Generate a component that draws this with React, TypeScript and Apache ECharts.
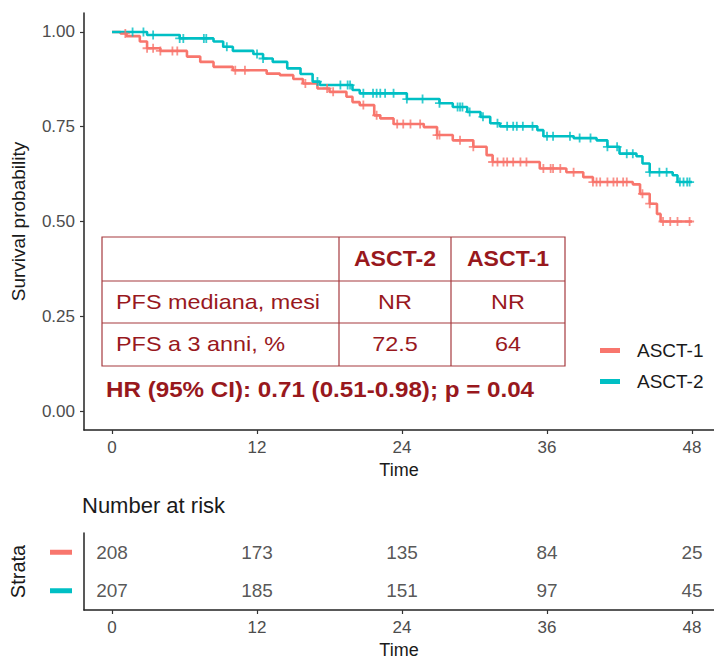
import React, { useEffect, useRef } from "react";
import * as echarts from "echarts";

// Kaplan-Meier step points [month, survival probability]
const asct1Steps: [number, number][] = [
  [0, 1.0], [0.7, 0.996], [1.2, 0.989], [2.3, 0.975], [2.9, 0.957], [4.0, 0.95],
  [6.2, 0.935], [7.3, 0.921], [8.4, 0.908], [10.0, 0.899], [12.8, 0.89], [13.9, 0.886],
  [15.0, 0.876], [15.8, 0.864], [17.0, 0.851], [18.0, 0.842], [19.4, 0.829], [19.9, 0.815],
  [20.5, 0.807], [21.7, 0.78], [22.2, 0.772], [23.3, 0.757], [25.8, 0.749], [26.9, 0.728],
  [28.2, 0.714], [29.9, 0.697], [31.0, 0.675], [31.5, 0.657], [35.4, 0.64], [37.6, 0.63],
  [39.0, 0.617], [39.8, 0.604], [43.1, 0.598], [43.7, 0.573], [44.5, 0.547], [45.1, 0.52],
  [45.4, 0.5], [48.0, 0.5],
];
const asct2Steps: [number, number][] = [
  [0, 1.0], [2.9, 0.992], [5.6, 0.983], [8.4, 0.975], [9.2, 0.961], [10.0, 0.95],
  [11.7, 0.942], [12.5, 0.93], [13.3, 0.921], [14.5, 0.904], [15.6, 0.889], [16.6, 0.869],
  [17.2, 0.86], [19.9, 0.847], [20.5, 0.838], [24.4, 0.823], [27.1, 0.812], [28.2, 0.802],
  [29.4, 0.789], [30.5, 0.776], [31.3, 0.759], [32.1, 0.751], [35.2, 0.741], [35.7, 0.725],
  [38.2, 0.72], [40.1, 0.714], [41.0, 0.697], [42.0, 0.679], [43.4, 0.672], [43.9, 0.653],
  [44.5, 0.63], [46.4, 0.622], [46.8, 0.604], [48.0, 0.604],
];

// Censoring times (months)
const asct1Censor = [
  1.1, 2.9, 3.4, 4.0, 5.0, 5.4, 10.2, 11.0, 16.0, 17.8, 18.3, 20.8, 21.9, 23.6, 24.1, 24.7,
  25.5, 26.9, 27.1, 28.8, 29.9, 31.5, 31.9, 32.4, 32.7, 33.2, 33.8, 34.3, 35.7, 36.3, 36.5,
  37.1, 38.2, 39.8, 40.1, 40.4, 41.0, 41.5, 41.8, 42.3, 42.6, 43.9, 44.5, 45.6, 46.2, 46.8, 47.8,
];
const asct2Censor = [
  1.7, 2.6, 3.4, 5.6, 5.9, 7.6, 7.8, 9.5, 12.0, 12.5, 17.0, 18.9, 19.5, 19.7, 20.8, 21.6,
  21.9, 22.2, 22.6, 23.3, 24.4, 25.7, 27.1, 28.6, 28.8, 29.0, 29.6, 30.7, 31.9, 32.7, 33.2,
  33.5, 34.0, 34.8, 36.0, 36.5, 37.9, 38.7, 39.6, 41.0, 41.8, 42.6, 43.1, 44.5, 45.3, 45.9,
  47.0, 47.3, 47.6, 47.8,
];

// Number at risk
const riskTimes = [0, 12, 24, 36, 48];
const riskAsct1 = [208, 173, 135, 84, 25];
const riskAsct2 = [207, 185, 151, 97, 45];

const timeTicks = [0, 12, 24, 36, 48];
const survTicks = [0, 0.25, 0.5, 0.75, 1];

// Summary table
const tableHeader = ["", "ASCT-2", "ASCT-1"];
const tableRows = [
  ["PFS mediana, mesi", "NR", "NR"],
  ["PFS a 3 anni, %", "72.5", "64"],
];
const hrText = "HR (95% CI): 0.71 (0.51-0.98); p = 0.04";

const RED = "#F8766D";
const TEAL = "#00BFC4";
const DARKRED = "#98181d";
const TABLE_LINE = "#a63a3f";
const FONT = '"Liberation Sans", Arial, sans-serif';

function survAt(steps: [number, number][], t: number): number {
  let s = steps[0][1];
  for (const [st, sv] of steps) {
    if (st <= t) s = sv;
  }
  return s;
}

const PLUS = "path://M4,0h2v4h4v2h-4v4h-2v-4h-4v-2h4z";

export default function App() {
  const ref = useRef<HTMLDivElement>(null);

  useEffect(() => {
    if (!ref.current) return;
    const chart = echarts.init(ref.current, undefined, { renderer: "svg" });

    // table geometry
    const tx = [102, 339, 451, 565];
    const ty = [237, 281, 323, 366];
    const graphics: any[] = [];
    graphics.push({
      type: "rect",
      shape: { x: tx[0], y: ty[0], width: tx[3] - tx[0], height: ty[3] - ty[0] },
      style: { fill: "none", stroke: TABLE_LINE, lineWidth: 1.2 },
      z: 10,
    });
    [tx[1], tx[2]].forEach((x) =>
      graphics.push({
        type: "line",
        shape: { x1: x, y1: ty[0], x2: x, y2: ty[3] },
        style: { stroke: TABLE_LINE, lineWidth: 1.2 },
        z: 10,
      })
    );
    [ty[1], ty[2]].forEach((y) =>
      graphics.push({
        type: "line",
        shape: { x1: tx[0], y1: y, x2: tx[3], y2: y },
        style: { stroke: TABLE_LINE, lineWidth: 1.2 },
        z: 10,
      })
    );
    const rows = [tableHeader, ...tableRows];
    rows.forEach((row, r) => {
      const cy = (ty[r] + ty[r + 1]) / 2;
      row.forEach((cell, c) => {
        if (!cell) return;
        const first = c === 0;
        const cx = first ? tx[0] + 14 : (tx[c] + tx[c + 1]) / 2;
        graphics.push({
          type: "text",
          x: cx,
          y: cy,
          scaleX: r === 0 ? 1.05 : 1.17,
          z: 11,
          style: {
            text: cell,
            fill: DARKRED,
            font: `${r === 0 ? "bold " : ""}${r === 0 ? 22 : 20}px ${FONT}`,
            align: first ? "left" : "center",
            verticalAlign: "middle",
          },
        });
      });
    });
    graphics.push({
      type: "text",
      x: 106,
      y: 389,
      scaleX: 1.1,
      z: 11,
      style: {
        text: hrText,
        fill: DARKRED,
        font: `bold 22px ${FONT}`,
        align: "left",
        verticalAlign: "middle",
      },
    });

    const axisLineStyle = { color: "#222", width: 1.5 };
    const tickStyle = { color: "#333", width: 1.2 };
    const labelStyle = { color: "#4d4d4d", fontSize: 17, fontFamily: FONT };

    const xAxisBase = (gridIndex: number) => ({
      type: "value",
      gridIndex,
      min: -2.32,
      max: 49.82,
      splitLine: { show: false },
      axisLine: { show: true, onZero: false, lineStyle: axisLineStyle },
      axisTick: { show: true, length: 4, lineStyle: tickStyle, customValues: timeTicks },
      axisLabel: { ...labelStyle, margin: 9, customValues: timeTicks },
      name: "Time",
      nameLocation: "middle",
      nameGap: 31,
      nameTextStyle: { color: "#1a1a1a", fontSize: 18, fontFamily: FONT },
    });

    const option: any = {
      animation: false,
      backgroundColor: "#ffffff",
      textStyle: { fontFamily: FONT },
      title: {
        text: "Number at risk",
        left: 82,
        top: 494,
        padding: 0,
        textStyle: { fontSize: 22, fontWeight: "normal", color: "#1a1a1a", fontFamily: FONT },
      },
      grid: [
        { left: 84, right: 0, top: 13, height: 417 },
        { left: 84, right: 0, top: 533, height: 77 },
      ],
      xAxis: [xAxisBase(0), xAxisBase(1)],
      yAxis: [
        {
          type: "value",
          gridIndex: 0,
          min: -0.05,
          max: 1.05,
          splitLine: { show: false },
          axisLine: { show: true, onZero: false, lineStyle: axisLineStyle },
          axisTick: { show: true, length: 4, lineStyle: tickStyle, customValues: survTicks },
          axisLabel: {
            ...labelStyle,
            margin: 9,
            customValues: survTicks,
            formatter: (v: number) => v.toFixed(2),
          },
          name: "Survival probability",
          nameLocation: "middle",
          nameGap: 56,
          nameTextStyle: { color: "#1a1a1a", fontSize: 19, fontFamily: FONT },
        },
        {
          type: "category",
          gridIndex: 1,
          data: ["ASCT-2", "ASCT-1"],
          axisLine: { show: true, onZero: false, lineStyle: axisLineStyle },
          axisTick: { show: false },
          splitLine: { show: false },
          axisLabel: {
            margin: 12,
            formatter: (v: string) => (v === "ASCT-1" ? "{r| }" : "{t| }"),
            rich: {
              r: { backgroundColor: RED, width: 22, height: 5, lineHeight: 5 },
              t: { backgroundColor: TEAL, width: 22, height: 5, lineHeight: 5 },
            },
          },
          name: "Strata",
          nameLocation: "middle",
          nameGap: 56,
          nameTextStyle: { color: "#1a1a1a", fontSize: 20, fontFamily: FONT },
        },
      ],
      legend: {
        orient: "vertical",
        left: 595,
        top: 336,
        itemWidth: 20,
        itemHeight: 5,
        itemGap: 12,
        icon: "rect",
        data: ["ASCT-1", "ASCT-2"],
        textStyle: { color: "#1a1a1a", fontSize: 19, fontFamily: FONT, padding: [0, 0, 0, 12] },
      },
      graphic: graphics,
      series: [
        {
          name: "ASCT-1",
          type: "line",
          step: "end",
          xAxisIndex: 0,
          yAxisIndex: 0,
          data: asct1Steps,
          showSymbol: false,
          lineStyle: { color: RED, width: 2.6 },
          itemStyle: { color: RED },
          z: 3,
        },
        {
          name: "ASCT-2",
          type: "line",
          step: "end",
          xAxisIndex: 0,
          yAxisIndex: 0,
          data: asct2Steps,
          showSymbol: false,
          lineStyle: { color: TEAL, width: 2.6 },
          itemStyle: { color: TEAL },
          z: 3,
        },
        {
          name: "ASCT-1",
          type: "scatter",
          xAxisIndex: 0,
          yAxisIndex: 0,
          symbol: PLUS,
          symbolSize: 9,
          itemStyle: { color: RED },
          data: asct1Censor.map((t) => [t, survAt(asct1Steps, t)]),
          z: 4,
        },
        {
          name: "ASCT-2",
          type: "scatter",
          xAxisIndex: 0,
          yAxisIndex: 0,
          symbol: PLUS,
          symbolSize: 9,
          itemStyle: { color: TEAL },
          data: asct2Censor.map((t) => [t, survAt(asct2Steps, t)]),
          z: 4,
        },
        ...[
          { key: "ASCT-1", vals: riskAsct1 },
          { key: "ASCT-2", vals: riskAsct2 },
        ].map((s) => ({
          type: "scatter",
          xAxisIndex: 1,
          yAxisIndex: 1,
          symbolSize: 1,
          itemStyle: { color: "rgba(0,0,0,0)" },
          label: {
            show: true,
            position: "inside",
            color: "#2b2b2b",
            fontSize: 19,
            fontFamily: FONT,
            formatter: (p: any) => String(p.value[2]),
          },
          data: riskTimes.map((t, i) => [t, s.key, s.vals[i]]),
        })),
      ],
    };

    chart.setOption(option);
    return () => chart.dispose();
  }, []);

  return (
    <div
      ref={ref}
      style={{ position: "fixed", left: 0, top: 0, width: 714, height: 660, background: "#fff" }}
    />
  );
}
